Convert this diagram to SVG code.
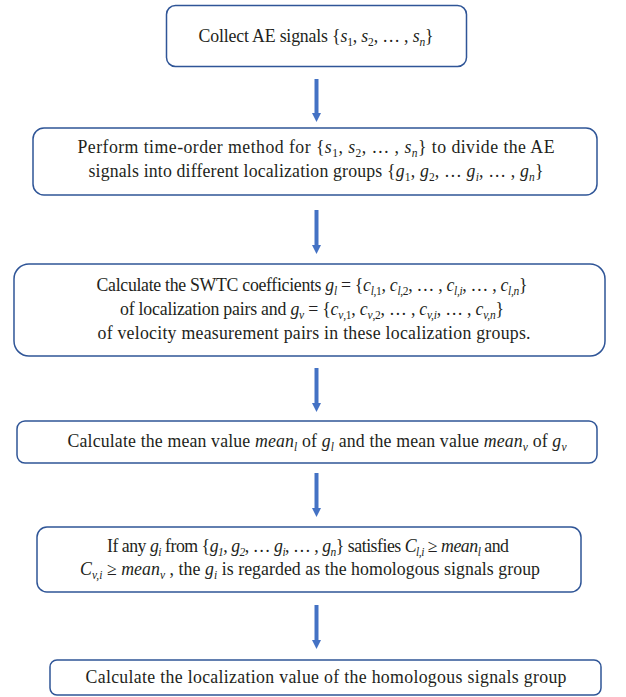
<svg xmlns="http://www.w3.org/2000/svg" width="626" height="697" viewBox="0 0 626 697">
<style>
.box{fill:#fff;stroke:#2f5597;stroke-width:1.5}
.t{font-family:"Liberation Serif",serif;font-size:17.8px;fill:#231f20;text-anchor:middle}
.i{font-style:italic}
.s{font-size:11.5px}
.arr{stroke:#4472c4;stroke-width:4;fill:none}
</style>
<defs>
<marker id="ah" viewBox="0 0 10 10" markerUnits="userSpaceOnUse" markerWidth="9" markerHeight="10" refX="0" refY="5" orient="auto">
<path d="M0,0 L10,5 L0,10 z" fill="#4472c4"/>
</marker>
</defs>
<rect width="626" height="697" fill="#fff"/>
<g id="connectors">
<line class="arr" x1="316.5" y1="79" x2="316.5" y2="113" marker-end="url(#ah)"/>
<line class="arr" x1="316.5" y1="210" x2="316.5" y2="245" marker-end="url(#ah)"/>
<line class="arr" x1="316.5" y1="368" x2="316.5" y2="403" marker-end="url(#ah)"/>
<line class="arr" x1="316.5" y1="473" x2="316.5" y2="508" marker-end="url(#ah)"/>
<line class="arr" x1="316.5" y1="605" x2="316.5" y2="640" marker-end="url(#ah)"/>
</g>
<g id="n1">
<rect class="box" x="166.5" y="5.5" width="300" height="61" rx="9"/>
<text class="t" x="316" y="42" textLength="235" lengthAdjust="spacing">Collect AE signals {<tspan class="i">s</tspan><tspan class="s" dy="4">1</tspan><tspan dy="-4">, </tspan><tspan class="i">s</tspan><tspan class="s" dy="4">2</tspan><tspan dy="-4">, … , </tspan><tspan class="i">s</tspan><tspan class="s i" dy="4">n</tspan><tspan dy="-4">}</tspan></text>
</g>
<g id="n2">
<rect class="box" x="33" y="128" width="564" height="67" rx="11"/>
<text class="t" x="316" y="153" textLength="477" lengthAdjust="spacing">Perform time-order method for {<tspan class="i">s</tspan><tspan class="s" dy="4">1</tspan><tspan dy="-4">, </tspan><tspan class="i">s</tspan><tspan class="s" dy="4">2</tspan><tspan dy="-4">, … , </tspan><tspan class="i">s</tspan><tspan class="s i" dy="4">n</tspan><tspan dy="-4">} to divide the AE</tspan></text>
<text class="t" x="316" y="177" textLength="455" lengthAdjust="spacing">signals into different localization groups {<tspan class="i">g</tspan><tspan class="s" dy="4">1</tspan><tspan dy="-4">, </tspan><tspan class="i">g</tspan><tspan class="s" dy="4">2</tspan><tspan dy="-4">, … </tspan><tspan class="i">g</tspan><tspan class="s i" dy="4">i</tspan><tspan dy="-4">, … , </tspan><tspan class="i">g</tspan><tspan class="s i" dy="4">n</tspan><tspan dy="-4">}</tspan></text>
</g>
<g id="n3">
<rect class="box" x="14" y="264" width="591" height="92" rx="15"/>
<text class="t" x="312" y="291" textLength="431" lengthAdjust="spacing">Calculate the SWTC coefficients <tspan class="i">g</tspan><tspan class="s i" dy="4">l</tspan><tspan dy="-4"> = {</tspan><tspan class="i">c</tspan><tspan class="s" dy="4"><tspan class="i">l</tspan>,1</tspan><tspan dy="-4">, </tspan><tspan class="i">c</tspan><tspan class="s" dy="4"><tspan class="i">l</tspan>,2</tspan><tspan dy="-4">, … , </tspan><tspan class="i">c</tspan><tspan class="s i" dy="4">l,i</tspan><tspan dy="-4">, … , </tspan><tspan class="i">c</tspan><tspan class="s i" dy="4">l,n</tspan><tspan dy="-4">}</tspan></text>
<text class="t" x="312" y="315" textLength="384" lengthAdjust="spacing">of localization pairs and <tspan class="i">g</tspan><tspan class="s i" dy="4">v</tspan><tspan dy="-4"> = {</tspan><tspan class="i">c</tspan><tspan class="s" dy="4"><tspan class="i">v</tspan>,1</tspan><tspan dy="-4">, </tspan><tspan class="i">c</tspan><tspan class="s" dy="4"><tspan class="i">v</tspan>,2</tspan><tspan dy="-4">, … , </tspan><tspan class="i">c</tspan><tspan class="s i" dy="4">v,i</tspan><tspan dy="-4">, … , </tspan><tspan class="i">c</tspan><tspan class="s i" dy="4">v,n</tspan><tspan dy="-4">}</tspan></text>
<text class="t" x="314" y="339" textLength="433" lengthAdjust="spacing">of velocity measurement pairs in these localization groups.</text>
</g>
<g id="n4">
<rect class="box" x="17" y="421" width="580" height="42" rx="8"/>
<text class="t" x="317" y="447" textLength="499" lengthAdjust="spacing">Calculate the mean value <tspan class="i">mean</tspan><tspan class="s i" dy="4">l</tspan><tspan dy="-4"> of </tspan><tspan class="i">g</tspan><tspan class="s i" dy="4">l</tspan><tspan dy="-4"> and the mean value </tspan><tspan class="i">mean</tspan><tspan class="s i" dy="4">v</tspan><tspan dy="-4"> of </tspan><tspan class="i">g</tspan><tspan class="s i" dy="4">v</tspan></text>
</g>
<g id="n5">
<rect class="box" x="37" y="527" width="544" height="65" rx="10"/>
<text class="t" x="308" y="552" textLength="402" lengthAdjust="spacing">If any <tspan class="i">g</tspan><tspan class="s i" dy="4">i</tspan><tspan dy="-4"> from {</tspan><tspan class="i">g</tspan><tspan class="s i" dy="4">1</tspan><tspan dy="-4">, </tspan><tspan class="i">g</tspan><tspan class="s i" dy="4">2</tspan><tspan dy="-4">, … </tspan><tspan class="i">g</tspan><tspan class="s i" dy="4">i</tspan><tspan dy="-4">, … , </tspan><tspan class="i">g</tspan><tspan class="s i" dy="4">n</tspan><tspan dy="-4">} satisfies </tspan><tspan class="i">C</tspan><tspan class="s i" dy="4">l,i</tspan><tspan dy="-4"> ≥ </tspan><tspan class="i">mean</tspan><tspan class="s i" dy="4">l</tspan><tspan dy="-4"> and</tspan></text>
<text class="t" x="310" y="575" textLength="460" lengthAdjust="spacing"><tspan class="i">C</tspan><tspan class="s i" dy="4">v,i</tspan><tspan dy="-4"> ≥ </tspan><tspan class="i">mean</tspan><tspan class="s i" dy="4">v</tspan><tspan dy="-4"> , the </tspan><tspan class="i">g</tspan><tspan class="s i" dy="4">i</tspan><tspan dy="-4"> is regarded as the homologous signals group</tspan></text>
</g>
<g id="n6">
<rect class="box" x="50" y="660" width="551" height="35" rx="7"/>
<text class="t" x="326" y="683" textLength="481" lengthAdjust="spacing">Calculate the localization value of the homologous signals group</text>
</g>
</svg>
